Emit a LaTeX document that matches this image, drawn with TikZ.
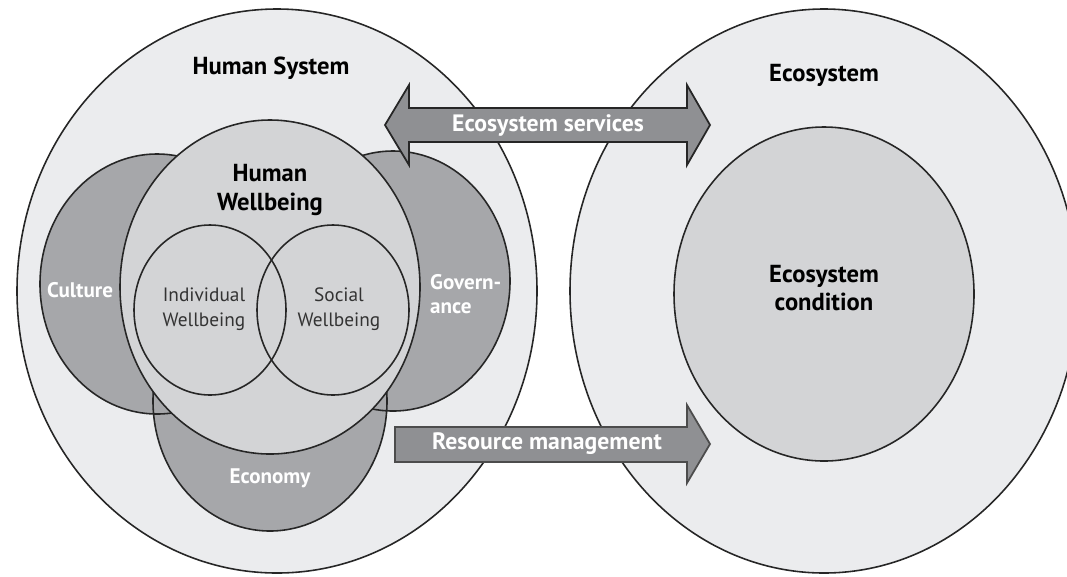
\documentclass[tikz,border=0pt]{standalone}
\usepackage{fontspec}
\setmainfont{PT Sans}
\definecolor{sysgray}{RGB}{235,236,238}
\definecolor{wellgray}{RGB}{211,212,214}
\definecolor{petalgray}{RGB}{166,167,170}
\definecolor{arrowgray}{RGB}{143,144,147}

\begin{document}
\begin{tikzpicture}[x=0.02cm, y=-0.02cm]
	\tikzset{ring/.style = {draw=black!85, line width=0.9pt}}
	\tikzset{headtext/.style = {font=\fontsize{14}{16}\selectfont\bfseries, align=center}}
	\tikzset{innertext/.style = {font=\fontsize{11}{14.5}\selectfont, align=center, text=black!80}}
	\tikzset{whitetext/.style = {font=\fontsize{12}{14}\selectfont\bfseries, text=white}}
	\tikzset{arrowtext/.style = {font=\fontsize{13.5}{15}\selectfont\bfseries, text=white}}
	\tikzset{blockarrow/.style = {fill=arrowgray, draw=black!85, line width=1pt, line join=miter}}
	\useasboundingbox (0,0) rectangle (1067,576);
	\clip (0,0) rectangle (1067,576);
	% systems
	\filldraw[ring, fill=sysgray] (277,291) ellipse [x radius=260, y radius=282];
	\filldraw[ring, fill=sysgray] (824,291) ellipse [x radius=254, y radius=282];
	\filldraw[ring, fill=wellgray] (824,294) ellipse [x radius=150, y radius=167];
	% petals
	\fill[petalgray] (157,284) ellipse [x radius=117, y radius=130];
	\fill[petalgray] (393,281) ellipse [x radius=117, y radius=130];
	\fill[petalgray] (270,401) ellipse [x radius=117, y radius=130];
	\draw[ring] (157,284) ellipse [x radius=117, y radius=130];
	\draw[ring] (393,281) ellipse [x radius=117, y radius=130];
	\draw[ring] (270,401) ellipse [x radius=117, y radius=130];
	% wellbeing
	\filldraw[ring, fill=wellgray] (270,287) ellipse [x radius=150, y radius=167];
	\draw[ring] (210,310) ellipse [x radius=76, y radius=85];
	\draw[ring] (333,310) ellipse [x radius=76, y radius=85];
	% arrows
	\draw[blockarrow] (385,125) -- (409,85) -- (409,108) -- (687,108) -- (687,85)
		-- (710,125) -- (687,165) -- (687,142) -- (409,142) -- (409,165) -- cycle;
	\draw[blockarrow, draw=black!70] (395,427) -- (687,427) -- (687,405) -- (710,444)
		-- (687,483) -- (687,462) -- (395,462) -- cycle;
	% labels
	\node[headtext] (hsys) at (271,68) {Human System};
	\node[headtext] (eco) at (824,75) {Ecosystem};
	\node[headtext] (hwb) at (270,190) {Human\\Wellbeing};
	\node[headtext] (econd) at (824,288) {Ecosystem\\condition};
	\node[innertext] (iwb) at (204,309) {Individual\\Wellbeing};
	\node[innertext] (swb) at (339,309) {Social\\Wellbeing};
	\node[whitetext] (cult) at (80,290) {Culture};
	\node[whitetext, align=left, anchor=west] (gov) at (424,294) {Govern-\\ance};
	\node[whitetext] (econ) at (270,478) {Economy};
	\node[arrowtext] (serv) at (548,125) {Ecosystem services};
	\node[arrowtext] (resmgmt) at (547,444) {Resource management};
\end{tikzpicture}
\end{document}
